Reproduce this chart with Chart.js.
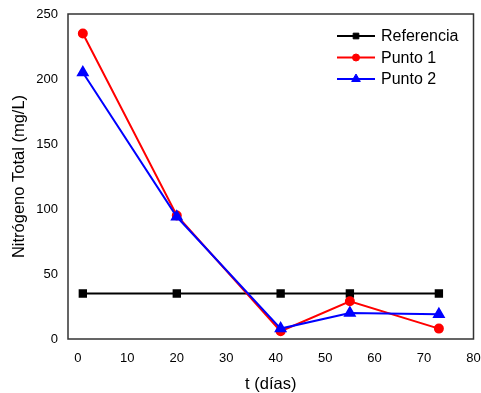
<!DOCTYPE html>
<html lang="es">
<head>
  <meta charset="UTF-8">
  <title>Nitrógeno Total</title>
  <script src="https://cdn.jsdelivr.net/npm/chart.js"></script>
  <style>
    html, body { margin: 0; padding: 0; background: #fff; }
    #wrap { width: 481px; height: 393px; }
  </style>
</head>
<body>
<div id="wrap"><canvas id="chart" width="481" height="393"></canvas></div>
<script>
  // valores
  const dias = [1, 20, 41, 55, 73];
  const referencia = [35, 35, 35, 35, 35];
  const punto1 = [235, 95, 6, 29, 8];
  const punto2 = [205, 94, 8, 20, 19];
  const xTicks = [0, 10, 20, 30, 40, 50, 60, 70, 80];

  const font = 'Liberation Sans, Arial, sans-serif';

  function pts(ys) {
    return dias.map((x, i) => ({ x: x, y: ys[i] }));
  }

  // marco completo y leyenda dentro del área
  const framePlugin = {
    id: 'frame',
    afterDatasetsDraw(chart) {
      const { ctx, chartArea: a } = chart;
      ctx.save();
      ctx.strokeStyle = '#333';
      ctx.lineWidth = 1.5;
      ctx.strokeRect(a.left, a.top, a.right - a.left, a.bottom - a.top);

      const rows = [36, 57.5, 79];
      ctx.font = '16px ' + font;
      ctx.textBaseline = 'middle';
      chart.data.datasets.forEach((ds, i) => {
        const y = rows[i];
        ctx.strokeStyle = ds.borderColor;
        ctx.lineWidth = 2;
        ctx.beginPath();
        ctx.moveTo(337, y);
        ctx.lineTo(375, y);
        ctx.stroke();
        ctx.fillStyle = ds.borderColor;
        ctx.lineWidth = 1;
        Chart.helpers.drawPoint(ctx, {
          pointStyle: ds.pointStyle, radius: ds.pointRadius - 0.5, borderWidth: 1
        }, 356, y);
        ctx.fillStyle = '#000';
        ctx.fillText(ds.label, 381, y + 1);
      });
      ctx.restore();
    }
  };

  new Chart(document.getElementById('chart'), {
    type: 'line',
    data: {
      datasets: [
        {
          label: 'Referencia', data: pts(referencia), borderColor: '#000', backgroundColor: '#000',
          pointStyle: 'rect', pointRadius: 4.5, borderWidth: 2, order: 3
        },
        {
          label: 'Punto 1', data: pts(punto1), borderColor: '#ff0000', backgroundColor: '#ff0000',
          pointStyle: 'circle', pointRadius: 4, borderWidth: 2, order: 2
        },
        {
          label: 'Punto 2', data: pts(punto2), borderColor: '#0000ff', backgroundColor: '#0000ff',
          pointStyle: 'triangle', pointRadius: 5.5, borderWidth: 2, order: 1
        }
      ]
    },
    options: {
      responsive: false,
      animation: false,
      layout: { padding: { left: 0, top: 14, right: 7, bottom: 0 } },
      elements: { line: { tension: 0 }, point: { borderWidth: 1 } },
      plugins: {
        legend: { display: false },
        tooltip: { enabled: false }
      },
      scales: {
        x: {
          type: 'linear',
          min: -2,
          max: 80,
          afterBuildTicks(scale) { scale.ticks = xTicks.map(v => ({ value: v })); },
          grid: { display: false, drawTicks: false },
          border: { display: false },
          ticks: { color: '#000', font: { family: font, size: 13 }, padding: 12, maxRotation: 0 },
          title: { display: true, text: 't (días)', color: '#000', font: { family: font, size: 16.5 }, padding: { top: 8, bottom: -1 } },
          afterFit(scale) {
            scale.height = 54;
            scale.paddingLeft = 0;
            scale.paddingRight = 0;
          }
        },
        y: {
          min: 0,
          max: 250,
          ticks: { stepSize: 50, color: '#000', font: { family: font, size: 13 }, padding: 10 },
          grid: { display: false, drawTicks: false },
          border: { display: false },
          title: { display: true, text: 'Nitrógeno Total (mg/L)', color: '#000', font: { family: font, size: 16.5 }, padding: { top: 10, bottom: 4 } },
          afterFit(scale) {
            scale.width = 68;
            scale.paddingTop = 0;
            scale.paddingBottom = 0;
          }
        }
      }
    },
    plugins: [framePlugin]
  });
</script>
</body>
</html>
